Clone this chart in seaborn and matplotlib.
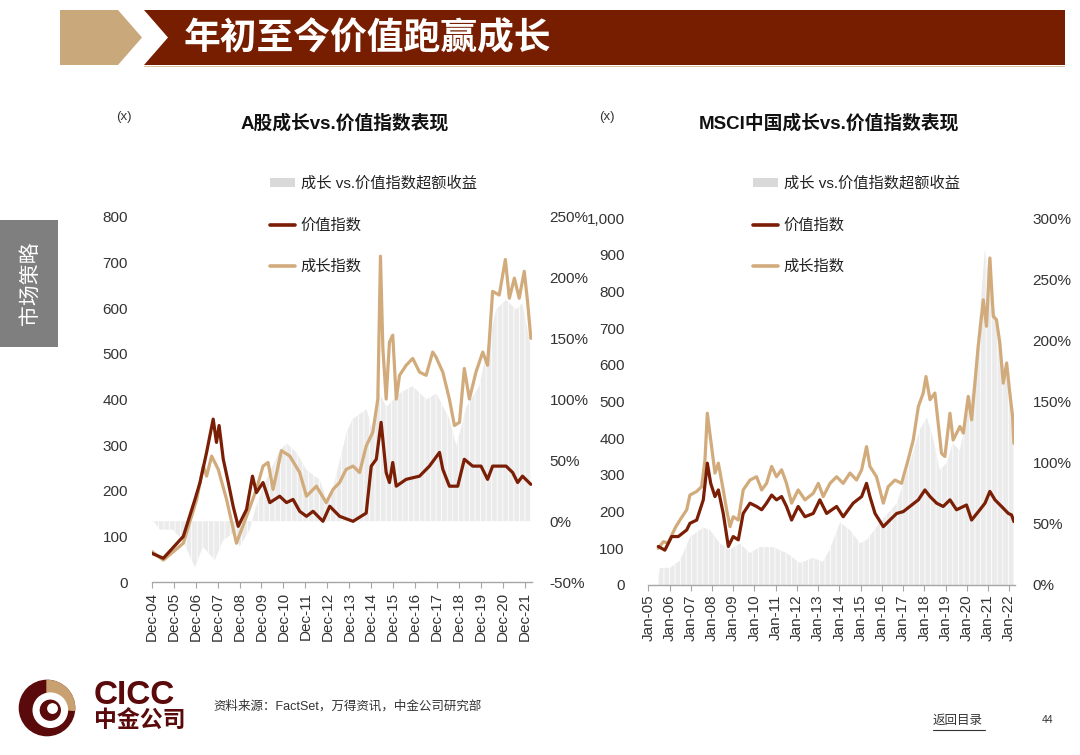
import matplotlib
matplotlib.use("Agg")
import matplotlib.pyplot as plt
import seaborn as sns
import pandas as pd
from matplotlib.patches import Polygon, Rectangle, Patch, Circle, Wedge
from matplotlib.lines import Line2D

# ---------------- data (decimal years) ----------------
# A-share growth / value indices (x) and growth-vs-value excess return (%)
a_growth_t = [2004.92, 2005.45, 2006.36, 2006.97, 2007.27, 2007.42, 2007.65, 2007.95, 2008.33, 2008.78,
              2009.24, 2009.69, 2009.99, 2010.22, 2010.45, 2010.83, 2011.21, 2011.66, 2011.97, 2012.42,
              2012.87, 2013.18, 2013.48, 2013.78, 2014.09, 2014.39, 2014.69, 2014.99, 2015.22, 2015.34,
              2015.45, 2015.60, 2015.75, 2015.90, 2016.06, 2016.21, 2016.51, 2016.81, 2017.12, 2017.42,
              2017.72, 2017.87, 2018.18, 2018.48, 2018.71, 2018.94, 2019.16, 2019.39, 2019.69, 2020.00,
              2020.22, 2020.45, 2020.75, 2021.03, 2021.21, 2021.44, 2021.66, 2021.89, 2022.04, 2022.19]
a_growth_v = [67, 48, 85, 181, 254, 232, 276, 247, 181, 85,
              144, 203, 254, 262, 203, 288, 276, 240, 188, 210,
              174, 203, 218, 247, 254, 240, 298, 328, 401, 714,
              512, 401, 526, 541, 401, 453, 475, 490, 460, 453,
              504, 493, 460, 401, 343, 350, 468, 401, 460, 504,
              475, 637, 629, 707, 622, 666, 622, 681, 615, 534]
a_value_t = [2004.92, 2005.45, 2006.36, 2006.89, 2007.12, 2007.42, 2007.72, 2007.87, 2007.99, 2008.18,
             2008.41, 2008.63, 2008.86, 2009.24, 2009.51, 2009.69, 2009.99, 2010.30, 2010.75, 2011.06,
             2011.36, 2011.66, 2011.97, 2012.27, 2012.72, 2013.03, 2013.48, 2014.09, 2014.69, 2014.92,
             2015.15, 2015.37, 2015.60, 2015.75, 2015.90, 2016.06, 2016.51, 2017.12, 2017.57, 2018.03,
             2018.18, 2018.48, 2018.86, 2019.16, 2019.54, 2019.92, 2020.22, 2020.45, 2021.06, 2021.36,
             2021.59, 2021.81, 2022.19]
a_value_v = [63, 52, 100, 181, 218, 284, 357, 306, 343, 269,
             218, 166, 122, 159, 232, 196, 218, 174, 188, 174,
             181, 155, 144, 155, 133, 166, 144, 133, 151, 254,
             269, 350, 240, 218, 262, 210, 225, 232, 254, 284,
             247, 210, 210, 269, 254, 254, 225, 254, 254, 240,
             218, 232, 214]
a_excess_t = [2004.92, 2005.30, 2005.89, 2006.34, 2006.89, 2007.25, 2007.80, 2008.16, 2008.62, 2008.93,
              2009.39, 2009.62, 2009.98, 2010.75, 2011.07, 2011.53, 2011.98, 2012.57, 2012.89, 2013.16,
              2013.80, 2014.07, 2014.71, 2014.98, 2015.30, 2015.61, 2016.21, 2016.80, 2017.44, 2017.89,
              2018.48, 2018.80, 2019.25, 2019.84, 2020.29, 2020.61, 2021.06, 2021.52, 2021.80, 2022.16]
a_excess_v = [2, -7, -7, -16, -38, -21, -32, -16, -10, -21,
              -7, 9, 28, 58, 64, 56, 42, 34, 18, 26,
              73, 84, 92, 73, 105, 94, 105, 111, 100, 105,
              84, 62, 94, 111, 149, 174, 182, 174, 179, 146]

# MSCI China growth / value indices (x) and excess return (%)
m_growth_t = [2005.47, 2005.71, 2005.94, 2006.26, 2006.49, 2006.81, 2006.96, 2007.28, 2007.51, 2007.67,
              2007.78, 2007.98, 2008.14, 2008.30, 2008.53, 2008.69, 2008.85, 2009.00, 2009.24, 2009.47,
              2009.79, 2010.10, 2010.34, 2010.57, 2010.81, 2011.04, 2011.28, 2011.51, 2011.75, 2012.06,
              2012.38, 2012.77, 2013.01, 2013.24, 2013.56, 2013.87, 2014.18, 2014.50, 2014.81, 2015.05,
              2015.28, 2015.44, 2015.75, 2016.07, 2016.30, 2016.62, 2016.93, 2017.24, 2017.48, 2017.72,
              2017.95, 2018.08, 2018.27, 2018.50, 2018.81, 2018.97, 2019.21, 2019.36, 2019.68, 2019.84,
              2020.07, 2020.23, 2020.54, 2020.78, 2020.93, 2021.09, 2021.25, 2021.40, 2021.56, 2021.72,
              2021.88, 2022.03, 2022.16, 2022.22]
m_growth_v = [100, 118, 114, 155, 177, 205, 245, 255, 268, 341,
              468, 377, 305, 332, 259, 205, 159, 186, 177, 259,
              286, 295, 259, 277, 323, 295, 314, 277, 223, 259,
              232, 250, 277, 241, 277, 295, 277, 305, 286, 314,
              377, 323, 295, 223, 268, 286, 277, 341, 395, 486,
              523, 568, 505, 523, 359, 350, 468, 395, 432, 414,
              514, 450, 650, 777, 705, 891, 732, 723, 659, 550,
              605, 523, 459, 386]
m_value_t = [2005.47, 2005.78, 2006.10, 2006.41, 2006.81, 2006.96, 2007.28, 2007.59, 2007.78, 2007.94,
             2008.14, 2008.30, 2008.53, 2008.77, 2009.00, 2009.24, 2009.47, 2009.79, 2010.10, 2010.34,
             2010.57, 2010.81, 2011.04, 2011.28, 2011.51, 2011.75, 2012.06, 2012.38, 2012.77, 2013.08,
             2013.40, 2013.87, 2014.18, 2014.65, 2015.05, 2015.28, 2015.44, 2015.68, 2016.07, 2016.38,
             2016.70, 2017.01, 2017.32, 2017.72, 2018.03, 2018.27, 2018.58, 2018.89, 2019.21, 2019.52,
             2019.99, 2020.23, 2020.62, 2020.86, 2021.09, 2021.33, 2021.64, 2021.96, 2022.11, 2022.22]
m_value_v = [105, 95, 132, 132, 150, 168, 177, 232, 332, 277,
             241, 259, 195, 105, 132, 123, 195, 223, 214, 205,
             223, 245, 232, 241, 214, 177, 214, 186, 195, 232,
             195, 214, 186, 223, 241, 277, 241, 195, 159, 177,
             195, 200, 214, 232, 259, 241, 223, 214, 232, 205,
             218, 177, 205, 223, 255, 232, 214, 195, 191, 173]
m_excess_t = [2005.47, 2005.55, 2006.02, 2006.49, 2006.96, 2007.58, 2007.90, 2008.37, 2008.85, 2009.32,
              2009.79, 2010.26, 2010.87, 2011.53, 2012.14, 2012.75, 2013.22, 2013.55, 2014.03, 2014.50,
              2014.97, 2015.30, 2015.91, 2016.71, 2017.32, 2017.79, 2018.12, 2018.40, 2018.73, 2019.06,
              2019.34, 2019.67, 2020.00, 2020.29, 2020.62, 2020.85, 2021.09, 2021.42, 2021.70, 2022.03,
              2022.22]
m_excess_v = [5, 14, 14, 20, 39, 47, 45, 34, 29, 34,
              26, 31, 31, 26, 18, 22, 19, 29, 51, 45,
              34, 37, 51, 67, 100, 127, 137, 121, 94, 100,
              116, 110, 137, 162, 222, 274, 249, 214, 181, 165,
              137]

a_ticks_labels = ["Dec-%02d" % y for y in range(4, 22)]
m_ticks_labels = ["Jan-%02d" % y for y in range(5, 23)]

legend_labels = ["成长 vs.价值指数超额收益", "价值指数", "成长指数"]

# ---------------- style ----------------
sns.set_theme(style="white")
plt.rcParams["font.family"] = ["Liberation Sans", "Noto Sans CJK SC", "DejaVu Sans"]
plt.rcParams["hatch.linewidth"] = 0.6

W, H = 1080, 755
fig = plt.figure(figsize=(10.8, 7.55), dpi=100)


def fx(x):
    return x / W


def fy(y):
    return 1 - y / H


C_VALUE = "#7a1e06"
C_GROWTH = "#d2ab7c"
C_GRAY = "#ebebeb"
C_TXT = "#333333"
C_AXIS = "#a6a6a6"


def make_chart(px_left, px_right, px_top, px_bottom, xlim, ylim, y2lim,
               yticks, ylabels, y2ticks, y2labels, xticks, xlabels,
               g_t, g_v, v_t, v_v, e_t, e_v, base):
    ax = fig.add_axes([fx(px_left), fy(px_bottom), (px_right - px_left) / W,
                       (px_bottom - px_top) / H])
    ax2 = ax.twinx()
    ax.set_zorder(ax2.get_zorder() + 1)
    ax.patch.set_visible(False)

    ax2.fill_between(e_t, base, e_v, facecolor=C_GRAY, edgecolor="white",
                     hatch="|||", lw=0)
    dg = pd.DataFrame({"t": g_t, "v": g_v})
    dv = pd.DataFrame({"t": v_t, "v": v_v})
    sns.lineplot(data=dg, x="t", y="v", ax=ax, color=C_GROWTH, lw=2.3, estimator=None)
    sns.lineplot(data=dv, x="t", y="v", ax=ax, color=C_VALUE, lw=2.3, estimator=None)

    ax.set_xlim(*xlim)
    ax2.set_xlim(*xlim)
    ax.set_ylim(*ylim)
    ax2.set_ylim(*y2lim)
    ax.set_yticks(yticks)
    ax.set_yticklabels(ylabels)
    ax2.set_yticks(y2ticks)
    ax2.set_yticklabels(y2labels)
    ax.set_xticks(xticks)
    ax.set_xticklabels(xlabels, rotation=90)
    ax.set_xlabel("")
    ax.set_ylabel("")
    for s in ["top", "left", "right"]:
        ax.spines[s].set_visible(False)
    for s in ax2.spines.values():
        s.set_visible(False)
    ax.spines["bottom"].set_color(C_AXIS)
    ax.spines["bottom"].set_linewidth(1.0)
    ax.tick_params(axis="x", bottom=True, length=4, width=0.8, color=C_AXIS,
                   labelsize=11, labelcolor=C_TXT, pad=3)
    ax.tick_params(axis="y", left=False, length=0, labelsize=11, labelcolor=C_TXT, pad=17)
    ax2.tick_params(axis="y", right=False, length=0, labelsize=11, labelcolor=C_TXT, pad=13)
    ax.grid(False)
    ax2.grid(False)
    return ax, ax2


# Left chart
axA, axA2 = make_chart(151.7, 531.5, 217, 582,
                       (2004.92, 2022.22), (0, 800), (-50, 250),
                       list(range(0, 801, 100)), [str(v) for v in range(0, 801, 100)],
                       list(range(-50, 251, 50)), ["%d%%" % v for v in range(-50, 251, 50)],
                       [2004.92 + k for k in range(18)], a_ticks_labels,
                       a_growth_t, a_growth_v, a_value_t, a_value_v, a_excess_t, a_excess_v, 0)

# Right chart
axM, axM2 = make_chart(648.3, 1014.5, 218, 585,
                       (2005.0, 2022.25), (0, 1000), (0, 300),
                       list(range(0, 1001, 100)), ["{:,}".format(v) for v in range(0, 1001, 100)],
                       list(range(0, 301, 50)), ["%d%%" % v for v in range(0, 301, 50)],
                       [2005.0 + k for k in range(18)], m_ticks_labels,
                       m_growth_t, m_growth_v, m_value_t, m_value_v, m_excess_t, m_excess_v, 0)

# Legends
handles = [Patch(facecolor="#d9d9d9", edgecolor="none"),
           Line2D([0], [0], color=C_VALUE, lw=2.6),
           Line2D([0], [0], color=C_GROWTH, lw=2.6)]
for ax, x0 in [(axA, 270), (axM, 753)]:
    ax.legend(handles, legend_labels, loc="upper left",
              bbox_to_anchor=(fx(x0), fy(176)), bbox_transform=fig.transFigure,
              frameon=False, fontsize=11, handlelength=1.65, handleheight=0.5,
              handletextpad=0.35, labelspacing=1.8, borderpad=0, borderaxespad=0,
              labelcolor="#222222")

# Chart titles and units
fig.text(fx(345), fy(123), "A股成长vs.价值指数表现", ha="center", va="center",
         fontsize=13.5, fontweight="bold", color="#111111")
fig.text(fx(829), fy(123), "MSCI中国成长vs.价值指数表现", ha="center", va="center",
         fontsize=13.5, fontweight="bold", color="#111111")
fig.text(fx(116), fy(117), "(x)", ha="left", va="center", fontsize=9.5, color=C_TXT)
fig.text(fx(599), fy(117), "(x)", ha="left", va="center", fontsize=9.5, color=C_TXT)

# Header band
fig.add_artist(Polygon([(fx(60), fy(10)), (fx(118), fy(10)), (fx(142), fy(37.5)),
                        (fx(118), fy(65)), (fx(60), fy(65))], closed=True,
                       transform=fig.transFigure, facecolor="#c9a97b", edgecolor="none"))
fig.add_artist(Polygon([(fx(144), fy(10)), (fx(1065), fy(10)), (fx(1065), fy(65)),
                        (fx(144), fy(65)), (fx(168), fy(37.5))], closed=True,
                       transform=fig.transFigure, facecolor="#771e00", edgecolor="none"))
fig.add_artist(Rectangle((fx(144), fy(67)), (1065 - 144) / W, 1.5 / H,
                         transform=fig.transFigure, facecolor="#d8c3a5", edgecolor="none"))
fig.text(fx(184), fy(39), "年初至今价值跑赢成长", ha="left", va="center",
         fontsize=26.5, fontweight="bold", color="white")

# Side tab
fig.add_artist(Rectangle((fx(0), fy(347)), 58 / W, 127 / H, transform=fig.transFigure,
                         facecolor="#7f7f7f", edgecolor="none"))
fig.text(fx(30), fy(283), "市场策略", rotation=90, ha="center", va="center",
         fontsize=15, color="white")

# Footer logo
lax = fig.add_axes([fx(18), fy(737), 58 / W, 58 / H])
lax.set_xlim(-1.05, 1.05)
lax.set_ylim(-1.05, 1.05)
lax.set_aspect("equal")
lax.axis("off")
lax.add_patch(Circle((0, 0), 1.0, color="#5a0a0a"))
lax.add_patch(Wedge((0, 0), 1.0, -5, 90, color="#c9a070"))
lax.add_patch(Circle((0.12, -0.08), 0.62, color="white"))
lax.add_patch(Circle((0.12, -0.08), 0.36, color="#5a0a0a"))
lax.add_patch(Circle((0.2, -0.02), 0.17, color="white"))

fig.text(fx(94), fy(695), "CICC", ha="left", va="center", fontsize=24,
         fontweight="bold", color="#5a0a0a", family=["Liberation Sans"])
fig.text(fx(94), fy(720), "中金公司", ha="left", va="center", fontsize=16.5,
         fontweight="bold", color="#5a0a0a", family=["Noto Sans CJK SC"])
fig.text(fx(213), fy(706), "资料来源：FactSet，万得资讯，中金公司研究部", ha="left",
         va="center", fontsize=9, color="#333333")
fig.text(fx(933), fy(721), "返回目录", ha="left", va="center", fontsize=9, color="#333333")
fig.add_artist(Line2D([fx(933), fx(985)], [fy(730), fy(730)], color="#333333", lw=0.8,
                      transform=fig.transFigure))
fig.text(fx(1042), fy(720), "44", ha="left", va="center", fontsize=7.5, color="#333333")

fig.savefig("out.png", dpi=100)
